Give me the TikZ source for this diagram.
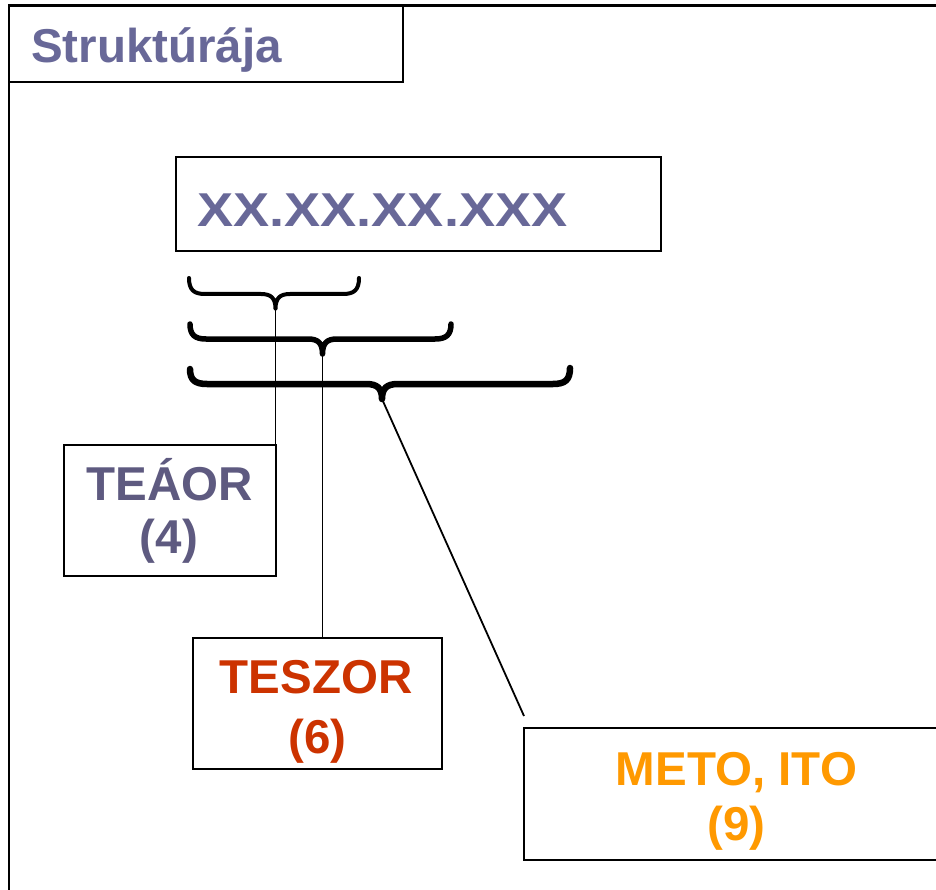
\documentclass[tikz,border=0pt]{standalone}
\usepackage{fontspec}
\setmainfont{Liberation Sans}
\definecolor{titlec}{HTML}{686898}
\definecolor{teaorc}{HTML}{5E5A80}
\definecolor{teszorc}{HTML}{CC3300}
\definecolor{metoc}{HTML}{FF9900}
\tikzset{
  frame/.style={line width=2.7pt},
  box/.style={draw, line width=2pt, inner sep=0pt},
  lbl/.style={font=\fontsize{47.5}{57}\selectfont\bfseries, inner sep=0pt},
  conn/.style={line width=1.8pt},
  bracea/.style={line width=4pt, line cap=round, line join=round},
  braceb/.style={line width=5.5pt, line cap=round, line join=round},
  bracec/.style={line width=6.5pt, line cap=round, line join=round}
}
\begin{document}
\begin{tikzpicture}[x=1pt,y=-1pt]
\clip (0,0) rectangle (936,890);
\fill[white] (0,0) rectangle (936,890);
% outer frame
\draw[frame] (9,895) -- (9,5.7) -- (945,5.7);
% title
\node[box, line width=2.7pt, minimum width=394pt, minimum height=76.3pt] (title) at (206,43.9) {};
\node[lbl, text=titlec, anchor=base west] (titletext) at (31,62.5) {Struktúrája};
% code box
\node[box, minimum width=484.5pt, minimum height=94.5pt] (code) at (418.25,204.25) {};
\node[lbl, text=titlec, anchor=base west] (codetext) at (197,227) {\scalebox{1.14}[1]{XX.XX.XX.XXX}};
% braces
\draw[bracea] (189,278) .. controls (189,290) and (194,294) .. (205,294) -- (261,294) .. controls (271,294) and (275.5,298) .. (275.5,309) .. controls (275.5,298) and (280,294) .. (290,294) -- (343,294) .. controls (354,294) and (359,290) .. (359,278);
\coordinate (b1tip) at (275.5,309);
\draw[braceb] (190,324) .. controls (190,335) and (195,339) .. (206,339) -- (308,339) .. controls (318,339) and (322.5,343) .. (322.5,354) .. controls (322.5,343) and (327,339) .. (337,339) -- (435,339) .. controls (446,339) and (451,335) .. (451,324);
\coordinate (b2tip) at (322.5,354);
\draw[bracec] (190,369) .. controls (190,380) and (195,384) .. (207,384) -- (366,384) .. controls (377,384) and (382,388) .. (382,399) .. controls (382,388) and (387,384) .. (398,384) -- (553,384) .. controls (565,384) and (570,380) .. (570,368);
\coordinate (b3tip) at (382,399);
% boxes
\node[box, minimum width=211.5pt, minimum height=130.5pt] (teaor) at (169.75,510.25) {};
\node[lbl, text=teaorc, anchor=base] (teaor1) at (169.5,500.5) {TEÁOR};
\node[lbl, text=teaorc, anchor=base] (teaor2) at (169,553) {(4)};
\node[box, minimum width=249pt, minimum height=131pt] (teszor) at (317.5,703.5) {};
\node[lbl, text=teszorc, anchor=base] (teszor1) at (316,693) {TESZOR};
\node[lbl, text=teszorc, anchor=base] (teszor2) at (317.5,753) {(6)};
\node[box, minimum width=436pt, minimum height=132pt] (meto) at (742,794) {};
\node[lbl, text=metoc, anchor=base] (meto1) at (736.5,785) {METO, ITO};
\node[lbl, text=metoc, anchor=base] (meto2) at (736.5,840) {(9)};
% connectors
\coordinate (m3end) at (524,716);
\draw[conn] (b1tip) -- (b1tip |- teaor.north);
\draw[conn] (b2tip) -- (b2tip |- teszor.north);
\draw[conn] (b3tip) -- (m3end);
\end{tikzpicture}
\end{document}
